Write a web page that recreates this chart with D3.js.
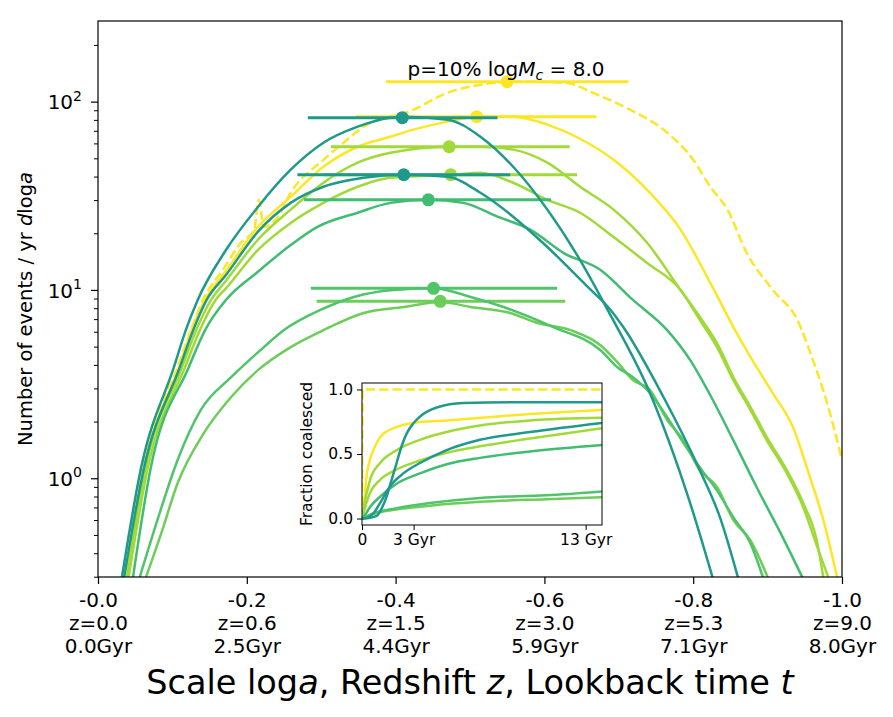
<!DOCTYPE html>
<html>
<head>
<meta charset="utf-8">
<script src="https://cdn.jsdelivr.net/npm/d3@7"></script>
<style>
  body { margin: 0; background: #fff; }
  svg { font-family: "DejaVu Sans", sans-serif; }
</style>
</head>
<body>
<div id="chart"></div>
<script>

// x axis: scale log a, with redshift and lookback time under each tick
const xTicks  = [0, -0.2, -0.4, -0.6, -0.8, -1.0];
const zLabels = ["z=0.0", "z=0.6", "z=1.5", "z=3.0", "z=5.3", "z=9.0"];
const tLabels = ["0.0Gyr", "2.5Gyr", "4.4Gyr", "5.9Gyr", "7.1Gyr", "8.0Gyr"];
const yTicks  = [1, 10, 100];

// main panel curves: [log a, events / yr dloga]
const yellowDash = [[-0.036,0.28],[-0.060,1.14],[-0.107,3.89],[-0.125,6.12],[-0.141,8.85],[-0.169,13.0],[-0.192,17.8],[-0.210,20.9],[-0.216,30.1],[-0.223,21.6],[-0.242,24.5],[-0.259,32.8],[-0.303,49.1],[-0.330,60.5],[-0.357,73.6],[-0.424,90.6],[-0.470,111.6],[-0.514,123],[-0.558,127.7],[-0.626,126.2],[-0.671,108.9],[-0.715,90.6],[-0.760,71.0],[-0.800,49.1],[-0.823,35.3],[-0.846,26.7],[-0.872,15.7],[-0.907,10.0],[-0.940,6.92],[-0.961,4.24],[-0.980,2.51],[-1.0,1.25]];
const yellow = [[-0.036,0.28],[-0.062,1.14],[-0.109,3.89],[-0.126,6.12],[-0.144,8.85],[-0.172,12.6],[-0.215,21.6],[-0.259,31.2],[-0.303,45.1],[-0.349,57.6],[-0.393,65.1],[-0.424,71.0],[-0.470,78.3],[-0.510,83.2],[-0.558,83.2],[-0.604,75.5],[-0.648,63.5],[-0.693,49.1],[-0.738,34.0],[-0.783,20.9],[-0.823,10.9],[-0.854,6.35],[-0.877,4.40],[-0.907,2.83],[-0.934,1.87],[-0.957,1.01],[-0.974,0.62],[-0.995,0.28]];
const lime1 = [[-0.038,0.28],[-0.064,1.14],[-0.113,3.89],[-0.132,6.12],[-0.152,8.85],[-0.172,11.2],[-0.215,18.5],[-0.259,26.7],[-0.303,37.1],[-0.349,47.4],[-0.393,53.5],[-0.472,57.6],[-0.514,57.6],[-0.558,55.6],[-0.604,47.4],[-0.648,35.3],[-0.693,26.7],[-0.738,17.8],[-0.783,10.0],[-0.809,7.18],[-0.832,5.22],[-0.854,3.44],[-0.877,2.39],[-0.899,1.65],[-0.926,1.10],[-0.948,0.736],[-0.966,0.468],[-0.976,0.28]];
const lime2 = [[-0.040,0.28],[-0.067,1.14],[-0.117,3.89],[-0.137,6.12],[-0.158,8.85],[-0.172,10.2],[-0.215,16.3],[-0.259,22.7],[-0.303,29.0],[-0.349,35.3],[-0.393,39.4],[-0.474,40.9],[-0.514,41.9],[-0.558,37.1],[-0.604,30.1],[-0.648,25.7],[-0.693,19.1],[-0.738,13.9],[-0.783,10.0],[-0.809,6.92],[-0.832,4.97],[-0.854,3.32],[-0.877,2.30],[-0.899,1.59],[-0.926,1.06],[-0.948,0.70],[-0.966,0.44],[-0.984,0.28]];
const green7 = [[-0.046,0.28],[-0.071,1.14],[-0.122,3.89],[-0.144,6.12],[-0.172,8.85],[-0.215,12.5],[-0.259,17.3],[-0.295,21.6],[-0.349,25.7],[-0.393,29.0],[-0.444,30.1],[-0.491,29.0],[-0.537,24.5],[-0.581,20.9],[-0.626,15.7],[-0.675,12.8],[-0.719,8.85],[-0.765,6.12],[-0.796,4.24],[-0.823,2.76],[-0.854,1.59],[-0.886,0.885],[-0.917,0.516],[-0.950,0.28]];
const green8 = [[-0.054,0.28],[-0.081,0.62],[-0.107,1.25],[-0.138,2.30],[-0.179,3.44],[-0.223,4.97],[-0.250,6.12],[-0.299,7.83],[-0.344,9.18],[-0.397,10.0],[-0.451,10.2],[-0.501,9.18],[-0.545,8.12],[-0.612,6.35],[-0.675,4.80],[-0.698,3.89],[-0.719,3.44],[-0.742,2.83],[-0.765,2.11],[-0.787,1.54],[-0.809,1.14],[-0.832,0.86],[-0.854,0.62],[-0.877,0.451],[-0.896,0.28]];
const green9 = [[-0.062,0.28],[-0.085,0.51],[-0.107,0.94],[-0.142,1.73],[-0.179,2.70],[-0.215,3.75],[-0.259,4.97],[-0.303,6.12],[-0.357,7.55],[-0.411,8.12],[-0.460,8.63],[-0.501,8.12],[-0.554,7.55],[-0.591,6.67],[-0.635,6.12],[-0.675,5.10],[-0.698,4.14],[-0.719,3.32],[-0.742,2.94],[-0.765,2.04],[-0.787,1.59],[-0.809,1.10],[-0.832,0.90],[-0.854,0.60],[-0.877,0.468],[-0.903,0.28]];
const teal2 = [[-0.034,0.28],[-0.062,1.14],[-0.110,3.89],[-0.128,6.12],[-0.146,8.85],[-0.172,12.0],[-0.215,20.4],[-0.259,29.0],[-0.303,35.3],[-0.357,39.4],[-0.411,40.9],[-0.470,39.9],[-0.514,32.8],[-0.558,24.5],[-0.604,16.9],[-0.658,10.4],[-0.689,7.83],[-0.706,6.35],[-0.760,2.70],[-0.809,1.10],[-0.836,0.62],[-0.862,0.28]];
const teal1 = [[-0.031,0.28],[-0.058,1.14],[-0.102,3.89],[-0.118,6.12],[-0.134,8.85],[-0.172,16.3],[-0.215,27.6],[-0.259,43.5],[-0.303,60.5],[-0.349,73.6],[-0.393,82.2],[-0.411,83],[-0.470,80.2],[-0.514,65.1],[-0.558,45.1],[-0.604,26.7],[-0.648,14.4],[-0.685,7.83],[-0.742,2.83],[-0.796,0.736],[-0.828,0.28]];

// peak markers with horizontal error bars (same order as the curves)
const peakA    = [-0.550, -0.509, -0.472, -0.474, -0.460, -0.451, -0.444, -0.411, -0.409];
const peakN    = [127.7, 83.2, 57.6, 40.9, 8.7, 10.2, 30.1, 40.9, 82.2];
const errLeft  = [-0.387, -0.346, -0.313, -0.303, -0.294, -0.286, -0.277, -0.268, -0.282];
const errRight = [-0.713, -0.670, -0.634, -0.644, -0.628, -0.617, -0.609, -0.554, -0.537];

// inset: fraction coalesced vs time [Gyr, fraction]
const inYellowDash = [[0,0],[0.03,1.0],[13.95,1.0]];
const inYellow = [[0,0],[0.08,0.02],[0.15,0.15],[0.27,0.33],[0.45,0.45],[0.66,0.53],[1.05,0.63],[1.5,0.68],[1.82,0.70],[2.98,0.74],[4.92,0.76],[8.8,0.80],[13.95,0.84]];
const inLime1 = [[0,0],[0.08,0.07],[0.47,0.30],[1.05,0.43],[2.01,0.53],[3.37,0.61],[4.92,0.67],[6.86,0.72],[9.77,0.76],[13.95,0.78]];
const inLime2 = [[0,0],[0.08,0.04],[0.47,0.20],[1.05,0.30],[2.01,0.38],[3.37,0.45],[4.92,0.51],[6.86,0.56],[9.77,0.62],[13.95,0.70]];
const inGreen9 = [[0,0],[0.66,0.035],[2.01,0.07],[3.95,0.10],[6.86,0.13],[10.7,0.15],[13.95,0.165]];
const inGreen8 = [[0,0],[0.66,0.04],[2.01,0.08],[3.95,0.12],[6.86,0.16],[10.7,0.18],[13.95,0.21]];
const inGreen7 = [[0,0],[0.08,0.01],[0.47,0.09],[1.05,0.17],[2.01,0.27],[3.37,0.35],[4.92,0.42],[6.86,0.47],[9.77,0.52],[13.95,0.57]];
const inTeal2 = [[0,0],[0.3,0.005],[0.66,0.04],[1.05,0.12],[1.63,0.25],[2.4,0.35],[3.37,0.43],[4.92,0.53],[6.86,0.61],[9.77,0.67],[13.95,0.74]];
const inTeal1 = [[0,0],[0.4,0.005],[0.85,0.02],[1.15,0.08],[1.43,0.17],[1.7,0.29],[2.01,0.43],[2.3,0.56],[2.6,0.66],[3.0,0.74],[3.37,0.79],[4.34,0.86],[5.9,0.895],[8.8,0.90],[13.95,0.90]];
const inXTicks  = [0, 3, 13];
const inXLabels = ["0", "3 Gyr", "13 Gyr"];
const inYTicks  = [0, 0.5, 1.0];

// styles
const colors = ["#fde725", "#fde725", "#a0da39", "#a0da39", "#6ccd5a", "#4fc46a", "#40bd72", "#1f9a8a", "#1f9a8a"];
const dashed = [true, false, false, false, false, false, false, false, false];
const mainCurves  = [yellowDash, yellow, lime1, lime2, green9, green8, green7, teal2, teal1];
const insetCurves = [inYellowDash, inYellow, inLime1, inLime2, inGreen9, inGreen8, inGreen7, inTeal2, inTeal1];

function drawChart() {
    const W = 893, H = 717;
    const left = 98, right = 842, top = 21, bottom = 577;

    const svg = d3.select("#chart")
        .append("svg")
        .attr("width", W)
        .attr("height", H);

    const x = d3.scaleLinear().domain([0, -1]).range([left, right]);
    const y = d3.scaleLog().domain([0.299, 268]).range([bottom, top]);

    svg.append("clipPath").attr("id", "clipMain")
        .append("rect")
        .attr("x", left).attr("y", top)
        .attr("width", right - left).attr("height", bottom - top);

    const line = d3.line()
        .x(d => x(d[0]))
        .y(d => y(d[1]))
        .curve(d3.curveMonotoneX);

    const plot = svg.append("g").attr("clip-path", "url(#clipMain)");

    // curves, each followed by its error bar and peak marker
    mainCurves.forEach((data, i) => {
        plot.append("path")
            .attr("d", line(data))
            .attr("fill", "none")
            .attr("stroke", colors[i])
            .attr("stroke-width", 2.5)
            .attr("stroke-dasharray", dashed[i] ? "9.25,4" : null);
        plot.append("line")
            .attr("x1", x(errLeft[i])).attr("x2", x(errRight[i]))
            .attr("y1", y(peakN[i])).attr("y2", y(peakN[i]))
            .attr("stroke", colors[i])
            .attr("stroke-width", 3);
        plot.append("circle")
            .attr("cx", x(peakA[i]))
            .attr("cy", y(peakN[i]))
            .attr("r", 6.5)
            .attr("fill", colors[i]);
    });

    // Y axis, major and minor log ticks
    const minor = [];
    [0.1, 1, 10, 100].forEach(d => { for (let k = 2; k < 10; k++) minor.push(d * k); });
    svg.append("g")
        .attr("transform", `translate(${left},0)`)
        .call(d3.axisLeft(y).tickValues(minor.filter(v => v > 0.299 && v < 268)).tickSize(4).tickFormat(""))
        .call(g => g.select(".domain").remove())
        .call(g => g.selectAll("line").attr("stroke-width", 1));
    const yAxis = svg.append("g")
        .attr("transform", `translate(${left},0)`)
        .call(d3.axisLeft(y).tickValues(yTicks).tickSize(7).tickPadding(9).tickFormat(""))
        .call(g => g.select(".domain").remove())
        .call(g => g.selectAll("line").attr("stroke-width", 1.2));
    yAxis.selectAll(".tick text")
        .attr("font-size", 20)
        .attr("font-family", "DejaVu Sans")
        .attr("fill", "#000")
        .attr("dy", "0.36em")
        .each(function(d) {
            const t = d3.select(this);
            t.append("tspan").text("10");
            t.append("tspan").attr("font-size", 14).attr("dy", "-0.62em").text(Math.round(Math.log10(d)));
        });

    // X axis, three label lines per tick
    const xAxis = svg.append("g")
        .attr("transform", `translate(0,${bottom})`)
        .call(d3.axisBottom(x).tickValues(xTicks).tickSize(7).tickFormat(""))
        .call(g => g.select(".domain").remove())
        .call(g => g.selectAll("line").attr("stroke-width", 1.2));
    xAxis.selectAll(".tick text")
        .attr("font-size", 20)
        .attr("font-family", "DejaVu Sans")
        .attr("fill", "#000")
        .attr("y", 0)
        .attr("dy", null)
        .each(function(d, i) {
            const t = d3.select(this);
            const lines = [d === 0 ? "-0.0" : d.toFixed(1), zLabels[i], tLabels[i]];
            lines.forEach((s, k) => t.append("tspan").attr("x", 0).attr("y", 30 + k * 23).text(s));
        });

    // frame
    svg.append("rect")
        .attr("x", left).attr("y", top)
        .attr("width", right - left).attr("height", bottom - top)
        .attr("fill", "none")
        .attr("stroke", "#000")
        .attr("stroke-width", 1.2);

    // axis labels and title
    const yl = svg.append("text")
        .attr("transform", `translate(32,${(top + bottom) / 2 + 10}) rotate(-90)`)
        .attr("text-anchor", "middle")
        .attr("font-size", 19.5);
    yl.append("tspan").text("Number of events / yr ");
    yl.append("tspan").attr("font-style", "italic").text("d");
    yl.append("tspan").text("log");
    yl.append("tspan").attr("font-style", "italic").text("a");

    const xl = svg.append("text")
        .attr("x", (left + right) / 2)
        .attr("y", 694)
        .attr("text-anchor", "middle")
        .attr("font-size", 33.5);
    xl.append("tspan").text("Scale log");
    xl.append("tspan").attr("font-style", "italic").text("a");
    xl.append("tspan").text(", Redshift ");
    xl.append("tspan").attr("font-style", "italic").text("z");
    xl.append("tspan").text(", Lookback time ");
    xl.append("tspan").attr("font-style", "italic").text("t");

    const title = svg.append("text")
        .attr("x", 506)
        .attr("y", 76)
        .attr("text-anchor", "middle")
        .attr("font-size", 20);
    title.append("tspan").text("p=10% log");
    title.append("tspan").attr("font-style", "italic").text("M");
    title.append("tspan").attr("font-style", "italic").attr("font-size", 14).attr("dy", 4).text("c");
    title.append("tspan").attr("dy", -4).text(" = 8.0");

    // Inset
    const il = 362, ir = 602, it = 383, ib = 525;
    const ix = d3.scaleLinear().domain([0, 13.95]).range([il, ir]);
    const iy = d3.scaleLinear().domain([-0.05, 1.05]).range([ib, it]);

    svg.append("rect")
        .attr("x", il).attr("y", it)
        .attr("width", ir - il).attr("height", ib - it)
        .attr("fill", "#fff");

    svg.append("clipPath").attr("id", "clipInset")
        .append("rect")
        .attr("x", il).attr("y", it)
        .attr("width", ir - il).attr("height", ib - it);

    const iline = d3.line()
        .x(d => ix(d[0]))
        .y(d => iy(d[1]))
        .curve(d3.curveMonotoneX);

    const inset = svg.append("g").attr("clip-path", "url(#clipInset)");
    insetCurves.forEach((data, i) => {
        inset.append("path")
            .attr("d", dashed[i] ? d3.line().x(d => ix(d[0])).y(d => iy(d[1]))(data) : iline(data))
            .attr("fill", "none")
            .attr("stroke", colors[i])
            .attr("stroke-width", 2.5)
            .attr("stroke-dasharray", dashed[i] ? "9.25,4" : null);
    });

    const iyAxis = svg.append("g")
        .attr("transform", `translate(${il},0)`)
        .call(d3.axisLeft(iy).tickValues(inYTicks).tickSize(5).tickPadding(4).tickFormat(d3.format(".1f")))
        .call(g => g.select(".domain").remove());
    iyAxis.selectAll("text").attr("font-size", 15.5).attr("font-family", "DejaVu Sans").attr("fill", "#000");

    const ixAxis = svg.append("g")
        .attr("transform", `translate(0,${ib})`)
        .call(d3.axisBottom(ix).tickValues(inXTicks).tickSize(5).tickPadding(4).tickFormat((d, i) => inXLabels[i]))
        .call(g => g.select(".domain").remove());
    ixAxis.selectAll("text").attr("font-size", 15.5).attr("font-family", "DejaVu Sans").attr("fill", "#000");

    svg.append("rect")
        .attr("x", il).attr("y", it)
        .attr("width", ir - il).attr("height", ib - it)
        .attr("fill", "none")
        .attr("stroke", "#000")
        .attr("stroke-width", 1);

    svg.append("text")
        .attr("transform", `translate(312,${(it + ib) / 2}) rotate(-90)`)
        .attr("text-anchor", "middle")
        .attr("font-size", 15.5)
        .text("Fraction coalesced");
}

drawChart();
</script>
</body>
</html>
